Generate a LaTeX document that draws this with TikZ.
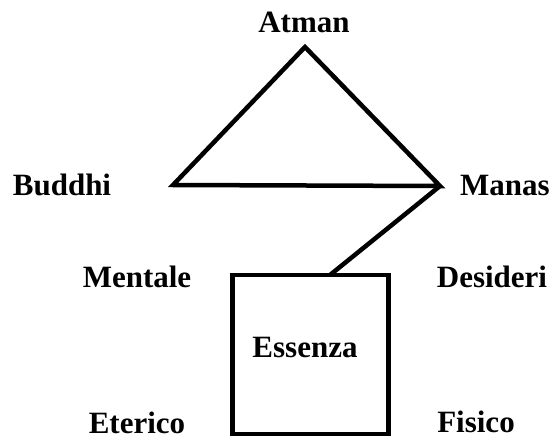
\documentclass[tikz,border=0pt]{standalone}
\usepackage{fontspec}
\setmainfont{Liberation Serif}
\tikzset{
    label text/.style = {anchor = base, inner sep = 0pt,
        font = \fontsize{31}{31}\selectfont\bfseries},
    thick edge/.style = {line width = 4.5pt, line join = miter}
}

\begin{document}
\begin{tikzpicture}[x = 1pt, y = -1pt]

\useasboundingbox (0, 0) rectangle (552, 436);

\coordinate (Apex) at (305, 47);
\coordinate (Left) at (173, 185);
\coordinate (Right) at (440, 186);
\coordinate (BoxTL) at (232.5, 275);
\coordinate (BoxBR) at (388.5, 434);
\coordinate (BoxTop) at (330, 275);

\draw[thick edge] (Apex) -- (Right) -- (Left) -- cycle;
\draw[thick edge] (BoxTL) rectangle (BoxBR);
\draw[thick edge] (Right) -- (BoxTop);

\node[label text] (atman) at (304, 33) {Atman};
\node[label text] (buddhi) at (62, 195) {Buddhi};
\node[label text] (manas) at (505, 195) {Manas};
\node[label text] (mentale) at (137, 287) {Mentale};
\node[label text] (desideri) at (492, 287) {Desideri};
\node[label text] (essenza) at (305, 357) {Essenza};
\node[label text] (eterico) at (137, 433) {Eterico};
\node[label text] (fisico) at (476, 432) {Fisico};

\end{tikzpicture}
\end{document}
